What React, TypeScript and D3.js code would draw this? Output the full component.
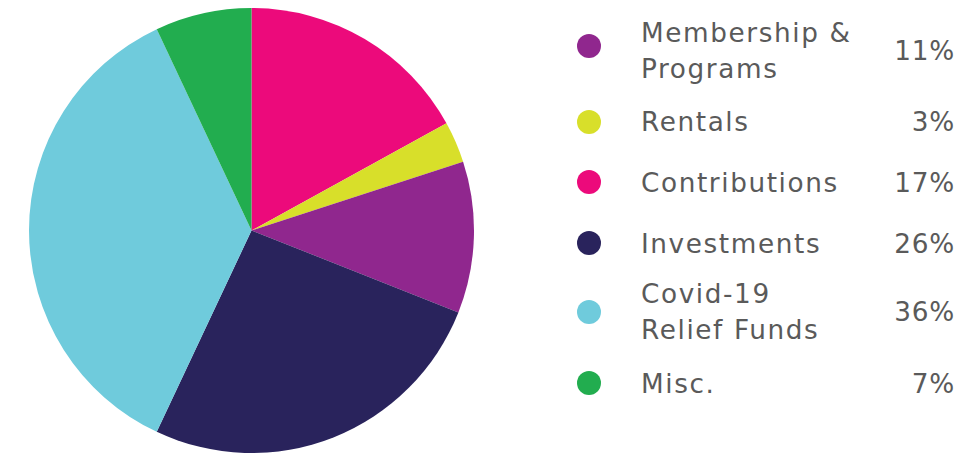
import React from "react";
import * as d3 from "d3";

const categories = ["Contributions", "Rentals", "Membership & Programs", "Investments", "Covid-19 Relief Funds", "Misc."];
const values = [17, 3, 11, 26, 36, 7];
const colors = ["#EC0A7B", "#D8DF2A", "#90278E", "#29235C", "#6FCBDC", "#22AD4F"];

const legendOrder = ["Membership & Programs", "Rentals", "Contributions", "Investments", "Covid-19 Relief Funds", "Misc."];
const legendLines: string[][] = [["Membership &", "Programs"], ["Rentals"], ["Contributions"], ["Investments"], ["Covid-19", "Relief Funds"], ["Misc."]];
const legendLabels = ["11%", "3%", "17%", "26%", "36%", "7%"];

export default function App() {
  const W = 963, H = 455;
  const cx = 251.5, cy = 230.5, r = 222.5;
  const pie = d3.pie<number>().sort(null).value((d) => d)(values);
  const arc = d3.arc<d3.PieArcDatum<number>>().innerRadius(0).outerRadius(r);

  const dotY = [46, 122, 182, 243, 312, 383];
  const textY = [50.5, 121.5, 182, 243, 311.5, 383];
  const color = d3.scaleOrdinal<string, string>().domain(categories).range(colors);

  return (
    <svg width={W} height={H} style={{ position: "absolute", left: 0, top: 0 }}>
      <g transform={`translate(${cx},${cy})`}>
        {pie.map((p, i) => (
          <path key={i} d={arc(p) || ""} fill={colors[i]} />
        ))}
      </g>
      <g fontFamily="'DejaVu Sans', sans-serif" fontSize={26.3} fill="#5a5a5a" letterSpacing={1.6}>
        {legendOrder.map((name, i) => {
          const c = textY[i];
          const lines = legendLines[i];
          const lh = 36;
          const y0 = c - ((lines.length - 1) * lh) / 2 + 9.6;
          return (
            <g key={name}>
              <circle cx={589} cy={dotY[i]} r={12} fill={color(name)} />
              {lines.map((ln, j) => (
                <text key={j} x={641} y={y0 + j * lh}>{ln}</text>
              ))}
              <text x={955} y={c + 9.6} textAnchor="end" letterSpacing={0.8}>{legendLabels[i]}</text>
            </g>
          );
        })}
      </g>
    </svg>
  );
}
